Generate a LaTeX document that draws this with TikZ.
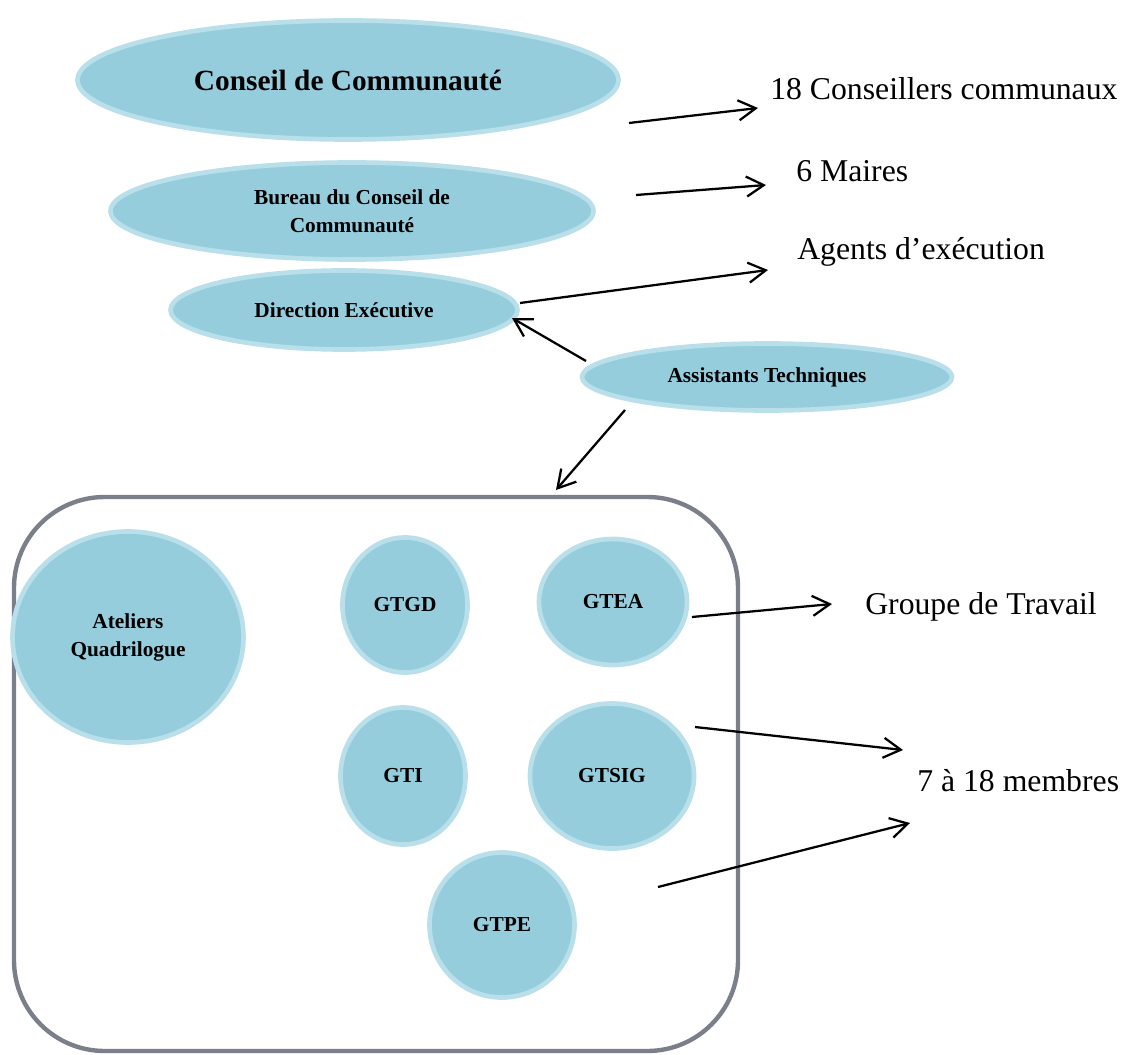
\documentclass[tikz,border=0pt]{standalone}
\usepackage{fontspec}
\setmainfont{Liberation Serif}
\usetikzlibrary{shapes.geometric,arrows.meta}
\definecolor{bluefill}{HTML}{95CDDD}
\definecolor{blueedge}{HTML}{B8DFEA}
\definecolor{framegray}{HTML}{7A7F8A}
\tikzset{
  bubble/.style={ellipse, fill=bluefill, draw=blueedge, line width=3.5pt, inner sep=0pt,
    align=center, font=\bfseries\fontsize{16}{21}\selectfont},
  lbl/.style={anchor=west, inner sep=0pt, font=\fontsize{23.8}{28}\selectfont},
  arr/.style={-{Straight Barb[length=13pt,width=15pt,line width=1.7pt]}, line width=1.7pt, black},
}
\begin{document}
\begin{tikzpicture}[x=0.75pt,y=-0.75pt]
\useasboundingbox (0,0) rectangle (1123,1055);
% frame
\draw[framegray, line width=3.3pt, rounded corners=68pt] (14,497) rectangle (738,1051);
% top ellipses
\node[bubble, minimum width={0.75pt*541}, minimum height={0.75pt*119}, font=\bfseries\fontsize{22}{26}\selectfont] (conseil) at (348,80) {Conseil de Communauté};
\node[bubble, minimum width={0.75pt*483}, minimum height={0.75pt*97}] (bureau) at (352,211) {Bureau du Conseil de\\Communauté};
\node[bubble, minimum width={0.75pt*347}, minimum height={0.75pt*79}] (direction) at (344,310) {Direction Exécutive};
\node[bubble, minimum width={0.75pt*370}, minimum height={0.75pt*67}] (assist) at (767,377) {Assistants Techniques};
% circles
\node[bubble, minimum width={0.75pt*231}, minimum height={0.75pt*211}] (ateliers) at (128,637) {Ateliers\\Quadrilogue};
\node[bubble, minimum width={0.75pt*125}, minimum height={0.75pt*135}] (gtgd) at (405,605) {GTGD};
\node[bubble, minimum width={0.75pt*148}, minimum height={0.75pt*126}] (gtea) at (613,602) {GTEA};
\node[bubble, minimum width={0.75pt*125}, minimum height={0.75pt*137}] (gti) at (403,776) {GTI};
\node[bubble, minimum width={0.75pt*164}, minimum height={0.75pt*145}] (gtsig) at (612,776) {GTSIG};
\node[bubble, minimum width={0.75pt*145}, minimum height={0.75pt*145}] (gtpe) at (502,925) {GTPE};
% labels
\node[lbl] (l1) at (770,89) {18 Conseillers communaux};
\node[lbl] (l2) at (796,171) {6 Maires};
\node[lbl] (l3) at (797,252) {Agents d’exécution};
\node[lbl] (l4) at (865,607) {Groupe de Travail};
\node[lbl] (l5) at (917,781) {7 à 18 membres};
% arrow end points
\coordinate (a1s) at (629,123); \coordinate (a1e) at (758,108);
\coordinate (a2s) at (636,195); \coordinate (a2e) at (766,185);
\coordinate (a3s) at (520,303); \coordinate (a3e) at (768,270);
\coordinate (a4s) at (586,361); \coordinate (a4e) at (512,318);
\coordinate (a5s) at (625,410); \coordinate (a5e) at (556,490);
\coordinate (a6s) at (692,617); \coordinate (a6e) at (832,604);
\coordinate (a7s) at (695,727); \coordinate (a7e) at (903,750);
\coordinate (a8s) at (658,887); \coordinate (a8e) at (910,823);
\draw[arr] (a1s) -- (a1e);
\draw[arr] (a2s) -- (a2e);
\draw[arr] (a3s) -- (a3e);
\draw[arr] (a4s) -- (a4e);
\draw[arr] (a5s) -- (a5e);
\draw[arr] (a6s) -- (a6e);
\draw[arr] (a7s) -- (a7e);
\draw[arr] (a8s) -- (a8e);
\end{tikzpicture}
\end{document}
